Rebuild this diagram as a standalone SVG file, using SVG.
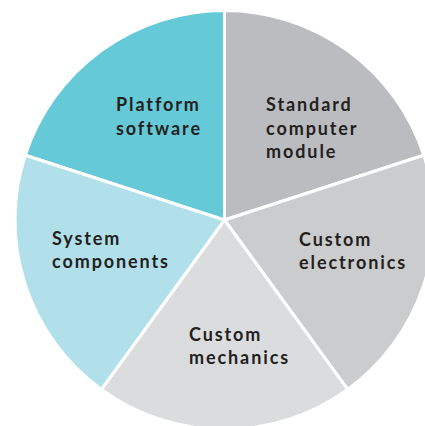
<svg xmlns="http://www.w3.org/2000/svg" width="425" height="426" viewBox="0 0 425 426">
<style>
.s{stroke:#fff;stroke-width:3;stroke-linejoin:miter}
.t{font-family:Lato,"Open Sans",sans-serif;font-weight:bold;font-size:18px;letter-spacing:1.9px;fill:#231f20}
</style>
<rect width="425" height="426" fill="#fff"/>
<g id="platform-software">
<path class="s" fill="#65C9D7" d="M224.5,220 L25.25,155.26 A209.5,209.5 0 0 1 224.5,10.5 Z"/>
<text class="t" x="116" y="111">Platform</text>
<text class="t" x="116" y="135">software</text>
</g>
<g id="standard-computer-module">
<path class="s" fill="#BBBCBF" d="M224.5,220 L224.5,10.5 A209.5,209.5 0 0 1 423.75,155.26 Z"/>
<text class="t" x="266" y="111">Standard</text>
<text class="t" x="266" y="135">computer</text>
<text class="t" x="266" y="158">module</text>
</g>
<g id="custom-electronics">
<path class="s" fill="#CBCCCE" d="M224.5,220 L423.75,155.26 A209.5,209.5 0 0 1 347.64,389.49 Z"/>
<text class="t" x="299" y="246">Custom</text>
<text class="t" x="299" y="269">electronics</text>
</g>
<g id="custom-mechanics">
<path class="s" fill="#DBDCDE" d="M224.5,220 L347.64,389.49 A209.5,209.5 0 0 1 101.36,389.49 Z"/>
<text class="t" x="189" y="341">Custom</text>
<text class="t" x="189" y="364">mechanics</text>
</g>
<g id="system-components">
<path class="s" fill="#B2E0EA" d="M224.5,220 L101.36,389.49 A209.5,209.5 0 0 1 25.25,155.26 Z"/>
<text class="t" x="52" y="245">System</text>
<text class="t" x="52" y="268">components</text>
</g>
<g id="connectors"/>
</svg>
